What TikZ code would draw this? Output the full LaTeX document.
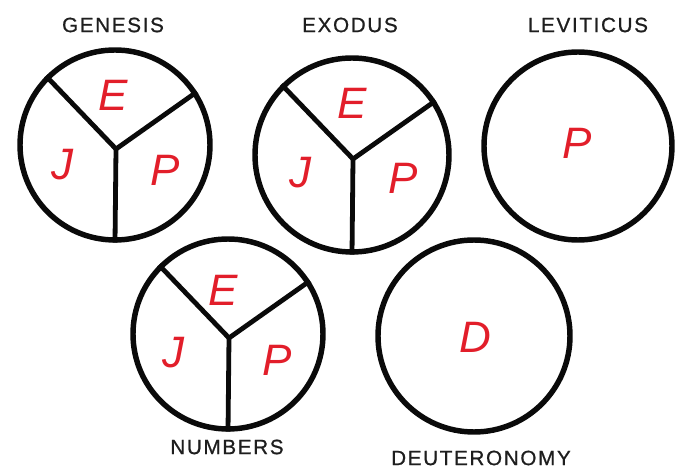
\documentclass[tikz,border=0pt]{standalone}
\usepackage{fontspec}
\setmainfont{Liberation Sans}
\newfontfamily\bookfont[LetterSpace=8,FakeBold=0.8]{Liberation Sans}
\usetikzlibrary{positioning,calc}
\definecolor{penred}{RGB}{226,30,42}
\definecolor{inkblack}{RGB}{10,10,10}
\definecolor{titlegray}{RGB}{30,30,30}

\begin{document}
\begin{tikzpicture}[
		x=0.75pt, y=-0.75pt,
		book/.style={draw=inkblack, circle, line width=4.1pt, inner sep=0pt},
		spoke/.style={draw=inkblack, line width=3.6pt},
		bookname/.style={font=\bookfont\fontsize{15.5}{18}\selectfont, text=titlegray, inner sep=0pt},
		source/.style={font=\itshape\fontsize{33}{36}\selectfont, text=penred, inner sep=0pt}
		]
		\useasboundingbox (0,0) rectangle (676,470);
		
		% book titles
		\node[bookname] (genname) at (113,25) {GENESIS};
		\node[bookname] (exoname) at (350,25) {EXODUS};
		\node[bookname] (levname) at (588,25) {LEVITICUS};
		\node[bookname] (numname) at (227,447) {NUMBERS};
		\node[bookname] (deuname) at (481,458) {DEUTERONOMY};
		
		% circles
		\node[book, minimum size=142.5pt] (gen) at (115,145) {};
		\node[book, minimum size=145.5pt] (exo) at (352,155) {};
		\node[book, minimum size=141pt] (lev) at (578,146) {};
		\node[book, minimum size=142.5pt] (num) at (228,334) {};
		\node[book, minimum size=144pt] (deu) at (474,336) {};
		
		% three way split
		\foreach \bk in {gen,exo,num}{
			\coordinate (\bk hub) at ($(\bk.center)+(1,4)$);
			\draw[spoke] (\bk.135) -- (\bk hub) -- (\bk.33);
			\draw[spoke] (\bk hub) -- (\bk.270);
		}
		
		% sources
		\node[source] (genE) at (113,95) {E};
		\node[source] (genJ) at (62,165) {J};
		\node[source] (genP) at (165,170) {P};
		
		\node[source] (exoE) at (352,103) {E};
		\node[source] (exoJ) at (300,173) {J};
		\node[source] (exoP) at (403,178) {P};
		
		\node[source] (levP) at (577,143) {P};
		
		\node[source] (numE) at (223,290) {E};
		\node[source] (numJ) at (173,353) {J};
		\node[source] (numP) at (277,360) {P};
		
		\node[source] (deuD) at (475,337) {D};
		
	\end{tikzpicture}
\end{document}
